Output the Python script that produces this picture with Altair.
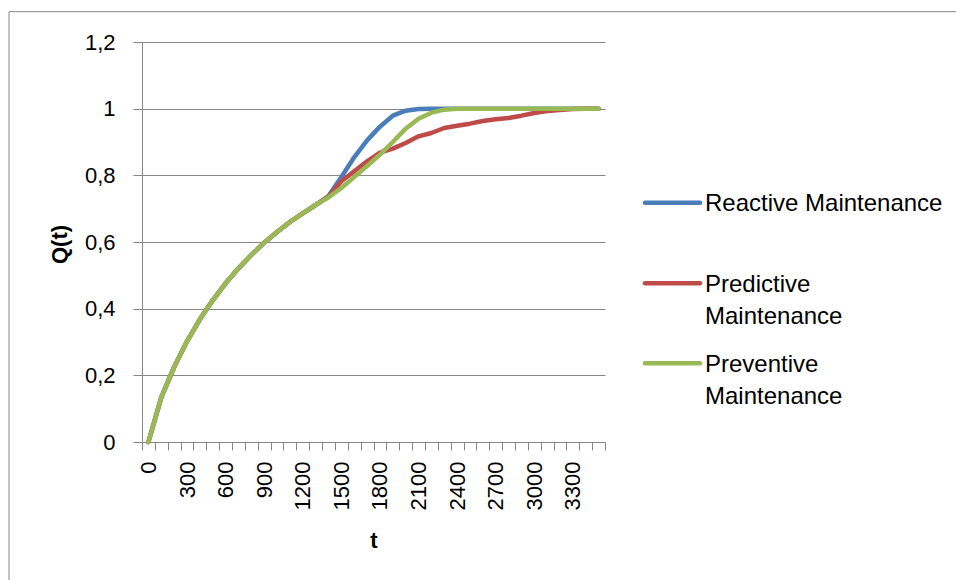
import altair as alt
import pandas as pd

# Time points (categories on the horizontal axis)
t_values = [0, 100, 200, 300, 400, 500, 600, 700, 800, 900, 1000, 1100,
            1200, 1300, 1400, 1500, 1600, 1700, 1800, 1900, 2000, 2100,
            2200, 2300, 2400, 2500, 2600, 2700, 2800, 2900, 3000, 3100,
            3200, 3300, 3400, 3500]

# Cumulative failure probability Q(t) per maintenance strategy
reactive = [0, 0.134, 0.225, 0.302, 0.368, 0.425, 0.476, 0.521, 0.561, 0.598,
            0.630, 0.660, 0.686, 0.711, 0.738, 0.795, 0.854, 0.905, 0.946,
            0.979, 0.994, 0.999, 1.0, 1.0, 1.0, 1.0, 1.0, 1.0, 1.0, 1.0,
            1.0, 1.0, 1.0, 1.0, 1.0, 1.0]
predictive = [0, 0.134, 0.225, 0.302, 0.368, 0.425, 0.476, 0.521, 0.561, 0.598,
              0.630, 0.660, 0.686, 0.711, 0.736, 0.782, 0.812, 0.842, 0.868,
              0.880, 0.897, 0.917, 0.927, 0.942, 0.949, 0.955, 0.963, 0.968,
              0.972, 0.979, 0.987, 0.993, 0.996, 0.999, 1.0, 1.0]
preventive = [0, 0.134, 0.225, 0.302, 0.368, 0.425, 0.476, 0.521, 0.561, 0.598,
              0.630, 0.660, 0.686, 0.711, 0.734, 0.762, 0.795, 0.828, 0.862,
              0.900, 0.940, 0.970, 0.988, 0.997, 1.0, 1.0, 1.0, 1.0, 1.0, 1.0,
              1.0, 1.0, 1.0, 1.0, 1.0, 1.0]

series_names = ["Reactive Maintenance", "Predictive Maintenance",
                "Preventive Maintenance"]
legend_labels = ["Reactive Maintenance", "Predictive\nMaintenance",
                 "Preventive\nMaintenance"]
series_colors = ["#4A7EBB", "#BE4B48", "#98B954"]

y_ticks = [0, 0.2, 0.4, 0.6, 0.8, 1, 1.2]

FONT = "Liberation Sans"
GRAY = "#868686"

rows = []
for name, vals in zip(series_names, [reactive, predictive, preventive]):
    for t, q in zip(t_values, vals):
        rows.append({"t": t, "q": q, "series": name})
df = pd.DataFrame(rows)

# category boundaries carry the tick marks, category centres carry the labels
x_axis_values = list(range(-50, 3551, 50))

x_enc = alt.X(
    "t:Q",
    scale=alt.Scale(domain=[-50, 3550], nice=False, zero=False),
    axis=alt.Axis(
        values=x_axis_values,
        grid=False,
        domainColor=GRAY,
        tickColor=GRAY,
        tickSize=8,
        tickOpacity={"condition": {"test": "datum.value % 100 !== 0", "value": 1},
                     "value": 0},
        labelExpr="datum.value >= 0 && datum.value % 300 === 0 ? format(datum.value, 'd') : ''",
        labelAngle=270,
        labelAlign="right",
        labelBaseline="middle",
        labelPadding=11,
        labelFont=FONT,
        labelFontSize=22,
        labelColor="black",
        labelOverlap=False,
        labelBound=False,
        labelFlush=False,
        title="t",
        titleFont=FONT,
        titleFontSize=22,
        titleFontWeight="bold",
        titleColor="black",
        titleY=98,
        titleBaseline="middle",
    ),
)

y_enc = alt.Y(
    "q:Q",
    scale=alt.Scale(domain=[0, 1.2], nice=False),
    axis=alt.Axis(
        values=y_ticks,
        grid=True,
        gridColor=GRAY,
        gridOpacity=1,
        domainColor=GRAY,
        tickColor=GRAY,
        tickSize=9,
        labelExpr="replace(format(datum.value, '~g'), '.', ',')",
        labelPadding=18,
        labelFont=FONT,
        labelFontSize=22,
        labelColor="black",
        labelBaseline="middle",
        title="Q(t)",
        titleFont=FONT,
        titleFontSize=22,
        titleFontWeight="bold",
        titleColor="black",
        titleX=-83,
        titleY=202,
        titleAngle=270,
        titleAlign="center",
        titleBaseline="middle",
    ),
)

lines = alt.Chart(df).mark_line(
    strokeWidth=4.5, strokeCap="round", strokeJoin="round"
).encode(
    x=x_enc,
    y=y_enc,
    color=alt.Color("series:N",
                    scale=alt.Scale(domain=series_names, range=series_colors),
                    legend=None),
    detail="series:N",
)

one_row = pd.DataFrame({"k": [0]})

# chart-area frame
frame = alt.Chart(one_row).mark_rect(
    fill=None, stroke=GRAY, strokeWidth=1
).encode(
    x=alt.value(-133), x2=alt.value(818),
    y=alt.value(-30.3), y2=alt.value(560),
)

# legend to the right of the plot area
legend_layers = []
symbol_y = [160.7, 241.3, 321.3]
text_y = [168.9, 249.7, 329.8]
for label, color, sy, ty in zip(legend_labels, series_colors, symbol_y, text_y):
    legend_layers.append(
        alt.Chart(one_row).mark_rule(
            color=color, strokeWidth=4.5, strokeCap="round"
        ).encode(x=alt.value(503), x2=alt.value(558), y=alt.value(sy))
    )
    legend_layers.append(
        alt.Chart(one_row).mark_text(
            text=label, lineBreak="\n", lineHeight=32.5, font=FONT,
            fontSize=24, color="black", align="left", baseline="alphabetic"
        ).encode(x=alt.value(563), y=alt.value(ty))
    )

chart = alt.layer(frame, lines, *legend_layers).properties(
    width=463,
    height=400,
    autosize=alt.AutoSizeParams(type="none"),
    padding={"left": 142, "top": 42, "right": 351, "bottom": 138},
    background="white",
).configure_view(stroke=None)

chart.save("out.html", embed_options={"renderer": "svg", "actions": False})
